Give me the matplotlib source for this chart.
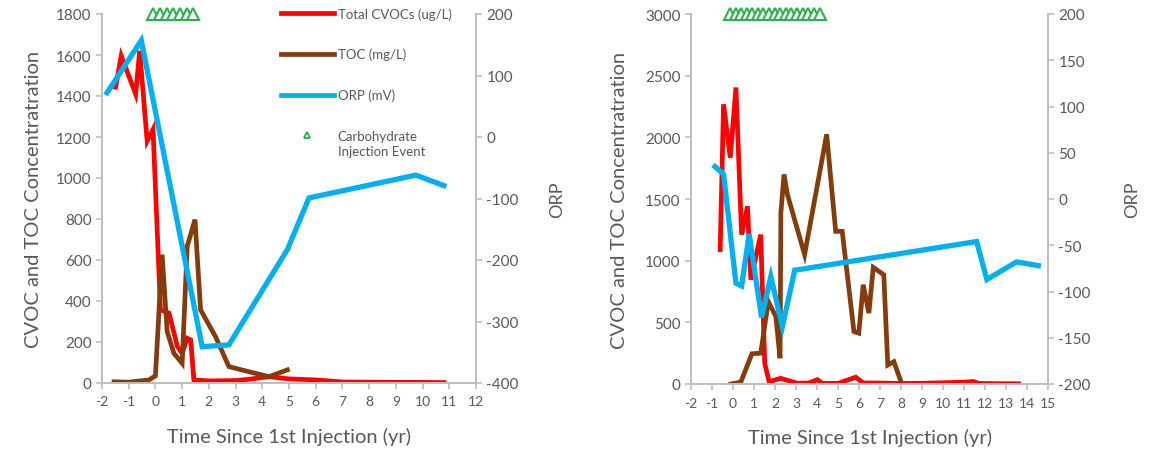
import matplotlib
matplotlib.use("Agg")
import matplotlib.pyplot as plt
from matplotlib.lines import Line2D

plt.rcParams['font.family'] = ['Lato', 'DejaVu Sans']
plt.rcParams['axes.unicode_minus'] = False

# ---------------- data: left panel ----------------
cvoc_t_L = [-1.49, -1.28, -0.74, -0.59, -0.31, -0.09, 0.19, 0.51, 0.82, 1.0, 1.19, 1.32, 1.44,
            2.0, 3.0, 3.5, 4.0, 4.3, 5.0, 6.0, 7.0, 8.0, 9.0, 10.0, 10.8]
cvoc_v_L = [1443, 1596, 1409, 1620, 1180, 1237, 357, 341, 178, 145, 218, 210, 15,
            10, 12, 18, 27, 30, 20, 15, 5, 4, 3, 3, 2]
toc_t_L = [-1.55, -1.0, -0.24, 0.0, 0.25, 0.44, 0.69, 1.0, 1.19, 1.48, 1.69, 2.25, 2.75, 3.5, 4.25, 4.94]
toc_v_L = [6, 4, 15, 35, 626, 251, 145, 96, 667, 797, 357, 226, 80, 55, 31, 64]
orp_t_L = [-1.81, -0.53, 1.75, 2.75, 4.94, 5.75, 9.75, 10.8]
orp_v_L = [72, 157, -341, -338, -183, -99, -62, -79]
inj_t_L = [-0.08, 0.17, 0.42, 0.66, 0.92, 1.17, 1.42]

# ---------------- data: right panel ----------------
cvoc_t_R = [-0.61, -0.45, -0.13, 0.14, 0.41, 0.69, 0.85, 1.32, 1.51, 1.72, 2.27, 3.07, 3.6, 4.02,
            4.25, 5.0, 5.84, 6.2, 7.0, 8.0, 9.0, 10.0, 11.0, 11.45, 11.7, 12.5, 13.6]
cvoc_v_R = [1089, 2268, 1835, 2404, 1211, 1441, 846, 1211, 168, 19, 46, 6, 8, 35,
            5, 5, 55, 8, 8, 4, 6, 10, 15, 20, 5, 3, 2]
toc_t_R = [-0.1, 0.37, 0.9, 1.32, 1.68, 2.04, 2.24, 2.28, 2.43, 2.59, 3.41, 4.46, 4.89, 5.2,
           5.76, 5.99, 6.2, 6.47, 6.68, 7.18, 7.37, 7.66, 7.97]
toc_v_R = [0, 15, 245, 250, 669, 547, 209, 1388, 1699, 1537, 1049, 2024, 1238, 1238,
           425, 412, 805, 575, 945, 886, 154, 181, 33]
orp_t_R = [-0.86, -0.45, 0.14, 0.41, 0.77, 1.36, 1.8, 2.35, 2.94, 11.6, 12.09, 13.5, 14.54]
orp_v_R = [35, 27, -91, -94, -38, -128, -84, -138, -77, -46, -87, -68, -72]
inj_t_R = [-0.15, 0.12, 0.38, 0.66, 0.92, 1.18, 1.45, 1.71, 1.98, 2.26, 2.52, 2.78, 3.05,
           3.31, 3.58, 3.85, 4.12]

xticks_L = list(range(-2, 13))
xticks_R = list(range(-2, 16))
yticks_L = list(range(0, 1801, 200))
yticks_R = list(range(0, 3001, 500))
orpticks_L = list(range(-400, 201, 100))
orpticks_R = list(range(-200, 201, 50))

RED = '#FF0000'
BROWN = '#843C0C'
BLUE = '#00B0F0'
GREEN = '#2BB24C'
TXT = '#595959'
SPINE = '#BFBFBF'

W, H = 1150, 452
fig = plt.figure(figsize=(W / 100, H / 100), dpi=100)


def make_panel(rect, ct, cv, tt, tv, ot, ov, inj, xt, yt, ot_ticks, ymax, ylpad, orppad):
    ax = fig.add_axes(rect)
    ax.plot(ct, cv, color=RED, lw=3.4, solid_joinstyle='miter', zorder=2)
    ax.plot(tt, tv, color=BROWN, lw=3.4, solid_joinstyle='miter', zorder=3)
    ax.plot(inj, [ymax] * len(inj), linestyle='none', marker='^', ms=8.5, mfc='white', mec=GREEN,
            mew=1.5, clip_on=False, zorder=5)
    ax.set_xlim(xt[0], xt[-1])
    ax.set_ylim(0, ymax)
    ax.set_xticks(xt)
    ax.set_yticks(yt)
    ax2 = ax.twinx()
    ax2.plot(ot, ov, color=BLUE, lw=3.8, solid_joinstyle='miter')
    ax2.set_ylim(ot_ticks[0], ot_ticks[-1])
    ax2.set_yticks(ot_ticks)
    for a in (ax, ax2):
        for s in a.spines.values():
            s.set_color(SPINE)
            s.set_linewidth(1.4)
        a.spines['top'].set_visible(False)
        a.tick_params(colors=TXT, labelsize=11, length=4, width=1.2, color=SPINE)
        a.patch.set_visible(False)
    ax.tick_params(axis='x', labelsize=10, pad=5)
    ax.set_xlabel('Time Since 1st Injection (yr)', fontsize=14.5, color=TXT, labelpad=14)
    ax.set_ylabel('CVOC and TOC Concentratration', fontsize=14.5, color=TXT, labelpad=ylpad)
    ax2.set_ylabel('ORP', fontsize=13, color=TXT, labelpad=orppad)
    return ax, ax2


make_panel([102 / W, 1 - 384 / H, (476 - 102) / W, (384 - 15) / H],
           cvoc_t_L, cvoc_v_L, toc_t_L, toc_v_L, orp_t_L, orp_v_L, inj_t_L,
           xticks_L, yticks_L, orpticks_L, 1800, 10, 22)
make_panel([691 / W, 1 - 385 / H, (1048 - 691) / W, (385 - 15) / H],
           cvoc_t_R, cvoc_v_R, toc_t_R, toc_v_R, orp_t_R, orp_v_R, inj_t_R,
           xticks_R, yticks_R, orpticks_R, 3000, 12, 24)

# legend (left panel)
handles = [Line2D([], [], color=RED, lw=3.4),
           Line2D([], [], color=BROWN, lw=3.4),
           Line2D([], [], color=BLUE, lw=3.4),
           Line2D([], [], linestyle='none', marker='^', ms=5, mfc='white', mec=GREEN, mew=1.3)]
labels = ['Total CVOCs (ug/L)', 'TOC (mg/L)', 'ORP (mV)', 'Carbohydrate']
leg = fig.legend(handles, labels, loc='upper left',
                 bbox_to_anchor=(281 / W, 1 - 8 / H), frameon=False,
                 fontsize=9.5, labelcolor=TXT, handlelength=4.0, handletextpad=0.3,
                 labelspacing=2.15, borderaxespad=0, borderpad=0)
fig.canvas.draw()
last = leg.get_texts()[-1]
bb = last.get_window_extent()
fig.text(bb.x0 / W, (bb.y0 - 3) / H, 'Injection Event', fontsize=9.5, color=TXT,
         ha='left', va='top')

fig.savefig('out.png', dpi=100)
